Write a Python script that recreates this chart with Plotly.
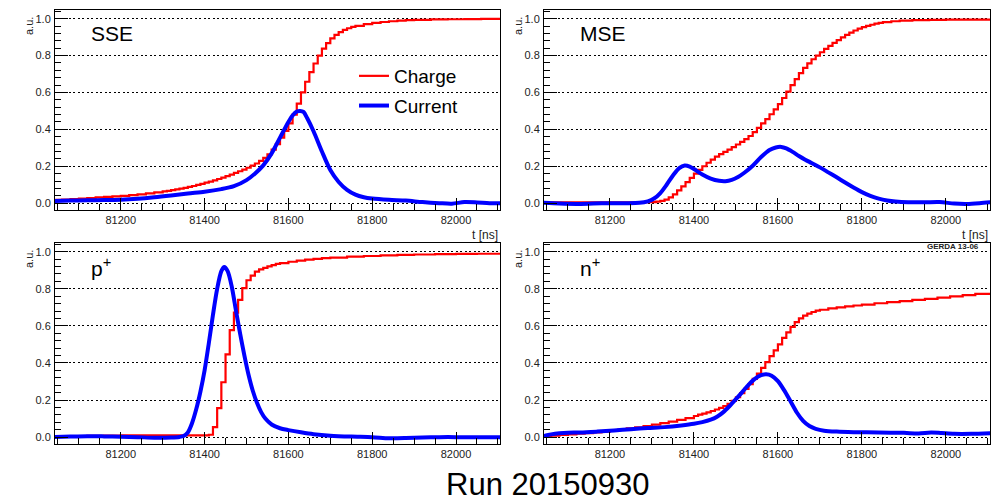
import plotly.graph_objects as go

W, H = 1007, 503

# ---------------- data ----------------
# SSE
sse_q_t = [81040, 81060, 81080, 81100, 81120, 81140, 81160, 81180, 81200, 81220, 81240, 81260, 81280,
           81300, 81310, 81320, 81330, 81340, 81350, 81360, 81370, 81380, 81390, 81400, 81410, 81420,
           81430, 81440, 81450, 81460, 81470, 81480, 81490, 81500, 81510, 81520, 81530, 81540, 81550,
           81560, 81570, 81580, 81590, 81600, 81610, 81620, 81630, 81640, 81650, 81660, 81670, 81680,
           81690, 81700, 81710, 81720, 81730, 81740, 81750, 81760, 81780, 81800, 81820, 81840, 81860,
           81880, 81900, 81940, 81980, 82020, 82060, 82110]
sse_q = [0.018, 0.020, 0.022, 0.025, 0.028, 0.031, 0.034, 0.037, 0.040, 0.044, 0.048, 0.053, 0.058,
         0.064, 0.067, 0.071, 0.075, 0.079, 0.083, 0.088, 0.093, 0.099, 0.105, 0.111, 0.117, 0.124,
         0.131, 0.139, 0.147, 0.155, 0.164, 0.173, 0.182, 0.192, 0.203, 0.215, 0.229, 0.245, 0.265,
         0.290, 0.320, 0.355, 0.392, 0.433, 0.480, 0.540, 0.600, 0.658, 0.710, 0.757, 0.800, 0.838,
         0.868, 0.893, 0.912, 0.927, 0.939, 0.948, 0.955, 0.961, 0.970, 0.977, 0.982, 0.986, 0.989,
         0.992, 0.994, 0.996, 0.997, 0.998, 0.999, 0.999]
sse_i_t = [81040, 81080, 81120, 81160, 81200, 81240, 81280, 81320, 81360, 81400, 81440, 81470, 81500,
           81520, 81540, 81560, 81580, 81600, 81610, 81620, 81628, 81636, 81645, 81660, 81680, 81700,
           81720, 81740, 81760, 81780, 81800, 81840, 81880, 81920, 81960, 81990, 82020, 82050, 82080, 82110]
sse_i = [0.012, 0.014, 0.016, 0.017, 0.019, 0.024, 0.032, 0.042, 0.053, 0.062, 0.076, 0.092, 0.125,
         0.160, 0.205, 0.270, 0.355, 0.440, 0.475, 0.497, 0.500, 0.495, 0.460, 0.390, 0.280, 0.180,
         0.115, 0.072, 0.046, 0.032, 0.025, 0.018, 0.014, 0.006, 0.000, -0.003, 0.006, 0.004, 0.000, 0.000]

# MSE
mse_q_t = [81040, 81100, 81160, 81220, 81280, 81300, 81310, 81320, 81330, 81340, 81350, 81360, 81370,
           81380, 81390, 81400, 81410, 81420, 81430, 81440, 81450, 81460, 81470, 81480, 81490, 81500,
           81510, 81520, 81530, 81540, 81550, 81560, 81570, 81580, 81590, 81600, 81610, 81620, 81630,
           81640, 81650, 81660, 81670, 81680, 81690, 81700, 81710, 81720, 81730, 81740, 81750, 81760,
           81770, 81780, 81790, 81800, 81810, 81820, 81830, 81840, 81850, 81870, 81890, 81920, 81960,
           82000, 82050, 82110]
mse_q = [0.004, 0.005, 0.005, 0.005, 0.005, 0.006, 0.008, 0.012, 0.019, 0.031, 0.048, 0.069, 0.091,
         0.114, 0.137, 0.160, 0.181, 0.200, 0.219, 0.236, 0.252, 0.266, 0.278, 0.290, 0.304, 0.318,
         0.332, 0.347, 0.364, 0.385, 0.408, 0.432, 0.456, 0.482, 0.508, 0.537, 0.570, 0.605, 0.640,
         0.672, 0.705, 0.733, 0.758, 0.780, 0.800, 0.818, 0.836, 0.853, 0.869, 0.884, 0.899, 0.912,
         0.924, 0.936, 0.946, 0.954, 0.961, 0.967, 0.973, 0.977, 0.981, 0.986, 0.989, 0.992, 0.994,
         0.995, 0.995, 0.995]
mse_i_t = [81040, 81080, 81120, 81160, 81200, 81240, 81270, 81290, 81305, 81320, 81335, 81350, 81365,
           81378, 81390, 81405, 81420, 81440, 81460, 81475, 81490, 81505, 81520, 81540, 81560, 81580,
           81595, 81608, 81620, 81635, 81650, 81665, 81680, 81700, 81720, 81740, 81760, 81780, 81800,
           81820, 81840, 81860, 81880, 81910, 81950, 81985, 82020, 82050, 82080, 82110]
mse_i = [0.002, -0.002, -0.004, -0.002, 0.000, 0.000, 0.002, 0.010, 0.025, 0.055, 0.100, 0.150, 0.190,
         0.204, 0.198, 0.178, 0.155, 0.133, 0.121, 0.119, 0.126, 0.142, 0.165, 0.203, 0.250, 0.288,
         0.302, 0.305, 0.297, 0.278, 0.256, 0.236, 0.218, 0.194, 0.167, 0.140, 0.112, 0.085, 0.060,
         0.040, 0.025, 0.015, 0.009, 0.005, 0.005, 0.006, -0.002, -0.004, 0.000, 0.006]

# p+
pp_q_t = [81040, 81080, 81120, 81160, 81200, 81240, 81280, 81320, 81360, 81400, 81410, 81420, 81430,
          81440, 81450, 81460, 81470, 81480, 81490, 81500, 81510, 81520, 81530, 81540, 81550, 81560,
          81570, 81580, 81600, 81620, 81640, 81660, 81680, 81700, 81740, 81780, 81820, 81860, 81900,
          81950, 82000, 82050, 82110]
pp_q = [0.005, 0.006, 0.007, 0.008, 0.009, 0.010, 0.010, 0.010, 0.010, 0.010, 0.013, 0.054, 0.156,
        0.296, 0.446, 0.577, 0.672, 0.740, 0.804, 0.846, 0.871, 0.893, 0.905, 0.913, 0.921, 0.928,
        0.934, 0.939, 0.946, 0.952, 0.957, 0.961, 0.965, 0.968, 0.973, 0.977, 0.980, 0.983, 0.985,
        0.987, 0.988, 0.989, 0.989]
pp_i_t = [81040, 81080, 81120, 81160, 81200, 81240, 81280, 81320, 81340, 81350, 81360, 81370, 81380,
          81390, 81400, 81410, 81420, 81430, 81440, 81447, 81455, 81465, 81475, 81485, 81495, 81505,
          81515, 81525, 81535, 81545, 81560, 81580, 81600, 81630, 81660, 81700, 81750, 81800, 81840,
          81880, 81920, 81960, 82000, 82050, 82110]
pp_i = [0.000, 0.003, 0.005, 0.004, 0.002, 0.000, -0.003, -0.002, 0.001, 0.006, 0.025, 0.075, 0.150,
        0.245, 0.360, 0.505, 0.660, 0.800, 0.895, 0.917, 0.895, 0.810, 0.680, 0.555, 0.440, 0.335,
        0.250, 0.185, 0.135, 0.100, 0.068, 0.048, 0.038, 0.026, 0.016, 0.008, 0.003, 0.000, -0.006,
        -0.005, -0.002, 0.000, 0.000, 0.000, 0.000]

# n+
np_q_t = [81040, 81060, 81080, 81100, 81120, 81140, 81160, 81180, 81200, 81220, 81240, 81260, 81280,
          81300, 81320, 81340, 81360, 81380, 81400, 81410, 81420, 81430, 81440, 81450, 81460, 81470,
          81480, 81490, 81500, 81510, 81520, 81530, 81540, 81550, 81560, 81570, 81580, 81590, 81600,
          81610, 81620, 81630, 81640, 81650, 81660, 81670, 81680, 81690, 81700, 81720, 81740, 81760,
          81780, 81800, 81830, 81860, 81890, 81920, 81950, 81980, 82010, 82040, 82070, 82110]
np_q = [0.004, 0.008, 0.012, 0.015, 0.019, 0.022, 0.025, 0.029, 0.034, 0.040, 0.047, 0.053, 0.060,
        0.068, 0.076, 0.084, 0.093, 0.103, 0.114, 0.121, 0.127, 0.134, 0.141, 0.149, 0.158, 0.168,
        0.180, 0.196, 0.215, 0.237, 0.260, 0.286, 0.314, 0.343, 0.374, 0.405, 0.437, 0.468, 0.500,
        0.535, 0.565, 0.595, 0.620, 0.640, 0.655, 0.666, 0.675, 0.682, 0.687, 0.694, 0.700, 0.705,
        0.710, 0.715, 0.722, 0.728, 0.734, 0.740, 0.746, 0.752, 0.759, 0.766, 0.773, 0.782]
np_i_t = [81040, 81050, 81060, 81080, 81100, 81130, 81170, 81210, 81250, 81290, 81330, 81370, 81400,
          81420, 81440, 81455, 81470, 81485, 81500, 81515, 81530, 81545, 81560, 81572, 81585, 81600,
          81615, 81630, 81645, 81660, 81675, 81690, 81710, 81740, 81780, 81840, 81900, 81935, 81965,
          81990, 82020, 82060, 82110]
np_i = [0.004, 0.010, 0.015, 0.021, 0.024, 0.025, 0.030, 0.036, 0.043, 0.049, 0.054, 0.063, 0.072,
        0.081, 0.094, 0.110, 0.135, 0.168, 0.205, 0.243, 0.282, 0.314, 0.334, 0.339, 0.331, 0.302,
        0.252, 0.193, 0.133, 0.088, 0.060, 0.045, 0.035, 0.030, 0.027, 0.025, 0.023, 0.020, 0.025,
        0.022, 0.018, 0.018, 0.022]

panels = [
    ("SSE", sse_q_t, sse_q, sse_i_t, sse_i),
    ("MSE", mse_q_t, mse_q, mse_i_t, mse_i),
    ("p<sup>+</sup>", pp_q_t, pp_q, pp_i_t, pp_i),
    ("n<sup>+</sup>", np_q_t, np_q, np_i_t, np_i),
]

x_ticks = [81200, 81400, 81600, 81800, 82000]
y_ticks = [0.0, 0.2, 0.4, 0.6, 0.8, 1.0]

# ---------------- layout geometry (pixels) ----------------
boxes = [  # left, right, top, bottom in px
    (55, 500, 10, 210),
    (544, 990, 10, 210),
    (55, 500, 243, 444),
    (544, 990, 243, 444),
]

FONT = "Liberation Sans, Arial, Helvetica, sans-serif"
fig = go.Figure()
layout = dict(
    width=W, height=H, margin=dict(l=0, r=0, t=0, b=0),
    paper_bgcolor="white", plot_bgcolor="white",
    font=dict(family=FONT, color="black"),
    showlegend=True,
    legend=dict(x=354 / W, y=1 - 57 / H, xanchor="left", yanchor="top",
                bgcolor="rgba(0,0,0,0)", font=dict(size=19, family=FONT, color="black"),
                tracegroupgap=2, itemclick=False),
)
annotations = []

for k, (name, qt, q, it, iv) in enumerate(panels):
    L, R, T, B = boxes[k]
    sfx = "" if k == 0 else str(k + 1)
    xa, ya = "x" + sfx, "y" + sfx
    fig.add_trace(go.Scatter(x=qt, y=q, mode="lines", line=dict(color="#ff0000", width=2.2, shape="hv"),
                             name="Charge", xaxis=xa, yaxis=ya, showlegend=(k == 0),
                             legendgroup="charge", hoverinfo="skip"))
    fig.add_trace(go.Scatter(x=it, y=iv, mode="lines", line=dict(color="#0000ff", width=4, shape="spline",
                                                                 smoothing=0.8),
                             name="Current", xaxis=xa, yaxis=ya, showlegend=(k == 0),
                             legendgroup="current", hoverinfo="skip"))
    layout["xaxis" + sfx] = dict(
        domain=[L / W, R / W], anchor=ya, range=[81043, 82105],
        tickvals=x_ticks, ticktext=[str(v) for v in x_ticks],
        ticks="inside", ticklen=12, tickwidth=1, tickcolor="black",
        minor=dict(dtick=50, tick0=81200, ticks="inside", ticklen=6, tickcolor="black", showgrid=False),
        showline=True, linecolor="black", linewidth=1, mirror=True,
        showgrid=False, zeroline=False,
        tickfont=dict(size=11, family=FONT, color="#222"),
    )
    layout["yaxis" + sfx] = dict(
        domain=[1 - B / H, 1 - T / H], anchor=xa, range=[-0.037, 1.047],
        tickvals=y_ticks, ticktext=["%.1f" % v for v in y_ticks],
        ticks="inside", ticklen=13, tickwidth=1, tickcolor="black",
        minor=dict(dtick=0.04, tick0=0, ticks="inside", ticklen=6, tickcolor="black", showgrid=False),
        showline=True, linecolor="black", linewidth=1, mirror=True,
        showgrid=True, gridcolor="black", gridwidth=1, griddash="2px,2.5px",
        zeroline=False, ticklabelstandoff=1,
        tickfont=dict(size=11, family=FONT, color="#222"),
    )
    # panel label
    annotations.append(dict(text=name, xref="paper", yref="paper", x=(L + 34) / W,
                            y=1 - (T + 24) / H, xanchor="left", yanchor="middle",
                            showarrow=False, font=dict(size=21, family=FONT, color="black")))
    # y title "a.u."
    annotations.append(dict(text="a.u.", xref="paper", yref="paper", x=(L - 26) / W,
                            y=1 - (T + 16) / H, xanchor="center", yanchor="middle", textangle=-90,
                            showarrow=False, font=dict(size=11, family=FONT, color="#222")))
    if k < 2:
        annotations.append(dict(text="t [ns]", xref="paper", yref="paper", x=R / W,
                                y=1 - (B + 25) / H, xanchor="right", yanchor="middle",
                                showarrow=False, font=dict(size=12, family=FONT, color="#222")))

annotations.append(dict(text="<b>GERDA 13-06</b>", xref="paper", yref="paper", x=981 / W,
                        y=1 - 246 / H, xanchor="right", yanchor="middle", showarrow=False,
                        font=dict(size=8, family=FONT, color="#222")))
annotations.append(dict(text="Run 20150930", xref="paper", yref="paper", x=547 / W,
                        y=1 - 484 / H, xanchor="center", yanchor="middle", showarrow=False,
                        font=dict(size=31, family=FONT, color="black")))
layout["annotations"] = annotations
fig.update_layout(**layout)
fig.write_html("out.html")
